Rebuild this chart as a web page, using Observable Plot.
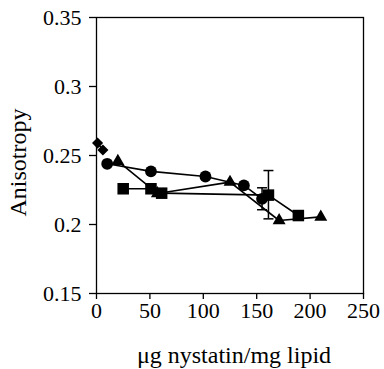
<!DOCTYPE html>
<html>
<head>
<meta charset="utf-8">
<script src="https://cdn.jsdelivr.net/npm/d3@7"></script>
<script src="https://cdn.jsdelivr.net/npm/@observablehq/plot@0.6"></script>
<style>
  html, body { margin: 0; padding: 0; background: white; }
  #chart svg, #chart svg text { font-family: "Liberation Serif", "Times New Roman", Times, serif !important; }
</style>
</head>
<body>
<div id="chart"></div>
<script>
// Series values
const diamondX = [1, 6];
const diamondY = [0.259, 0.254];
const circleX = [10, 51, 102, 138, 155];
const circleY = [0.244, 0.2385, 0.2348, 0.2283, 0.2186];
const triangleX = [20, 57, 125, 171, 210];
const triangleY = [0.2459, 0.2225, 0.2307, 0.2029, 0.2055];
const squareX = [25, 51, 61, 161, 189];
const squareY = [0.2259, 0.2259, 0.2227, 0.2213, 0.2065];
// error bars
const errX = [155, 161];
const errLow = [0.2107, 0.2041];
const errHigh = [0.2266, 0.2391];
// axes
const xTicks = [0, 50, 100, 150, 200, 250];
const yTicks = [0.15, 0.2, 0.25, 0.3, 0.35];
const xLabel = "μg nystatin/mg lipid";
const yLabel = "Anisotropy";

const toRows = (xs, ys) => xs.map((x, i) => ({x, y: ys[i]}));
const diamonds = toRows(diamondX, diamondY);
const circles = toRows(circleX, circleY);
const triangles = toRows(triangleX, triangleY);
const squares = toRows(squareX, squareY);
const errs = errX.map((x, i) => ({x, lo: errLow[i], hi: errHigh[i]}));

const capSymbol = {
  draw(context, size) {
    const r = 5;
    context.moveTo(-r, 0);
    context.lineTo(r, 0);
  }
};

const lineOpts = {x: "x", y: "y", stroke: "black", strokeWidth: 1.6};
const serif = "'Liberation Serif', 'Times New Roman', Times, serif";

const chart = Plot.plot({
  width: 384,
  height: 369,
  marginLeft: 96,
  marginRight: 21,
  marginTop: 17,
  marginBottom: 76,
  style: {fontFamily: serif, fontSize: "22px", background: "white", color: "black"},
  x: {domain: [0, 250]},
  y: {domain: [0.15, 0.35]},
  marks: [
    Plot.frame({stroke: "black", strokeWidth: 1.3}),
    Plot.axisX({ticks: xTicks, tickSize: 6, tickPadding: 3, label: null, fontSize: 22, strokeWidth: 1.3}),
    Plot.axisY({ticks: yTicks, tickSize: 7, tickPadding: 8, label: null, fontSize: 22, strokeWidth: 1.3,
      tickFormat: d => String(Math.round(d * 100) / 100)}),
    Plot.line(diamonds, lineOpts),
    Plot.line(circles, lineOpts),
    Plot.line(triangles, lineOpts),
    Plot.line(squares, lineOpts),
    Plot.ruleX(errs, {x: "x", y1: "lo", y2: "hi", stroke: "black", strokeWidth: 1.5}),
    Plot.dot(errs, {x: "x", y: "lo", symbol: capSymbol, stroke: "black", strokeWidth: 1.5, r: 5}),
    Plot.dot(errs, {x: "x", y: "hi", symbol: capSymbol, stroke: "black", strokeWidth: 1.5, r: 5}),
    Plot.dot(diamonds, {x: "x", y: "y", symbol: "diamond2", r: 5, fill: "black", stroke: "none"}),
    Plot.dot(circles, {x: "x", y: "y", symbol: "circle", r: 5.9, fill: "black", stroke: "none"}),
    Plot.dot(triangles, {x: "x", y: "y", symbol: "triangle", r: 4.8, fill: "black", stroke: "none"}),
    Plot.dot(squares, {x: "x", y: "y", symbol: "square", r: 6.5, fill: "black", stroke: "none"}),
    Plot.text([xLabel], {text: d => d, frameAnchor: "bottom", dx: 4, dy: 69, textAnchor: "middle", lineAnchor: "bottom", fontSize: 24, fontFamily: serif, fill: "black"}),
    Plot.text([yLabel], {text: d => d, frameAnchor: "left", dx: -78, dy: 7, textAnchor: "middle", lineAnchor: "middle", rotate: -90, fontSize: 24, fontFamily: serif, fill: "black"})
  ]
});
document.getElementById("chart").appendChild(chart);
</script>
</body>
</html>
